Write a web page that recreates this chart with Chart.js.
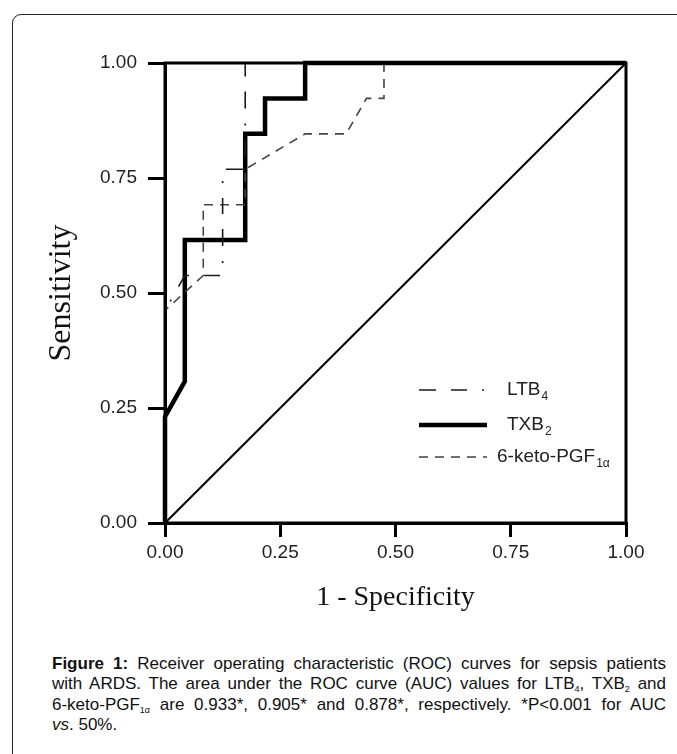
<!DOCTYPE html>
<html>
<head>
<meta charset="utf-8">
<script src="https://cdn.jsdelivr.net/npm/chart.js@4.4.1/dist/chart.umd.min.js"></script>
<style>
  html, body { margin: 0; padding: 0; background: #fff; }
  body { width: 677px; height: 754px; position: relative; overflow: hidden; font-family: "Liberation Sans", Arial, sans-serif; }
  .frame { position: absolute; left: 12px; top: 14px; width: 700px; height: 800px; border: 1px solid #222; border-radius: 9px; }
  #wrap { position: absolute; left: 0; top: 0; width: 677px; height: 640px; }
  .caption { position: absolute; left: 52px; top: 654px; width: 614px; font-size: 17px; line-height: 20.3px; color: #111; }
  .caption .j { text-align: justify; text-align-last: justify; }
  .caption sub { font-size: 9px; line-height: 0; vertical-align: -3px; }
</style>
</head>
<body>
<div class="frame"></div>
<div id="wrap"><canvas id="roc" width="677" height="640"></canvas></div>
<div class="caption">
  <div class="j"><b>Figure 1:</b> Receiver operating characteristic (ROC) curves for sepsis patients</div>
  <div class="j">with ARDS. The area under the ROC curve (AUC) values for LTB<sub>4</sub>, TXB<sub>2</sub> and</div>
  <div class="j">6-keto-PGF<sub>1α</sub> are 0.933*, 0.905* and 0.878*, respectively. *P&lt;0.001 for AUC</div>
  <div><i>vs</i>. 50%.</div>
</div>
<script>
// ticks
const axisTicks = [0, 0.25, 0.5, 0.75, 1];

// legend labels (base text + subscript)
const legendBase = ['LTB', 'TXB', '6-keto-PGF'];
const legendSub = ['4', '2', '1α'];

// ROC curves: 1 - specificity (x) and sensitivity (y)
const ltb4Fpr = [0, 0, 0.043, 0.125, 0.125, 0.174, 0.174, 1];
const ltb4Tpr = [0, 0.462, 0.538, 0.538, 0.769, 0.769, 1, 1];

const txb2Fpr = [0, 0, 0.043, 0.043, 0.174, 0.174, 0.217, 0.217, 0.304, 0.304, 1];
const txb2Tpr = [0, 0.231, 0.308, 0.615, 0.615, 0.846, 0.846, 0.923, 0.923, 1, 1];

const ketoFpr = [0, 0, 0.083, 0.083, 0.174, 0.174, 0.304, 0.393, 0.437, 0.475, 0.475, 1];
const ketoTpr = [0, 0.462, 0.538, 0.692, 0.692, 0.769, 0.846, 0.846, 0.923, 0.923, 1, 1];

const refFpr = [0, 1];
const refTpr = [0, 1];

const toPoints = (xs, ys) => xs.map((x, i) => ({ x: x, y: ys[i] }));

const ltbDash = [17, 15, 16, 15, 2, 15];
const ketoDash = [9, 7];

const datasets = [
    {
        label: 'reference',
        data: toPoints(refFpr, refTpr),
        borderColor: '#000',
        borderWidth: 2,
    },
    {
        label: legendBase[0] + legendSub[0],
        data: toPoints(ltb4Fpr, ltb4Tpr),
        borderColor: '#1a1a1a',
        borderWidth: 1.6,
        borderDash: ltbDash,
        legendRow: 0,
    },
    {
        label: legendBase[2] + legendSub[2],
        data: toPoints(ketoFpr, ketoTpr),
        borderColor: '#444',
        borderWidth: 1.6,
        borderDash: ketoDash,
        legendRow: 2,
    },
    {
        label: legendBase[1] + legendSub[1],
        data: toPoints(txb2Fpr, txb2Tpr),
        borderColor: '#000',
        borderWidth: 4.5,
        legendRow: 1,
    },
];

// box round the plot (top and right sides)
const frameBox = {
    id: 'frameBox',
    afterDatasetsDraw(chart) {
        const { ctx, chartArea: a } = chart;
        ctx.save();
        ctx.strokeStyle = '#000';
        ctx.lineWidth = 3;
        ctx.strokeRect(a.left, a.top, a.right - a.left, a.bottom - a.top);
        ctx.restore();
    },
};

// legend with dashed samples and subscripts
const rocLegend = {
    id: 'rocLegend',
    afterDraw(chart) {
        const ctx = chart.ctx;
        const rowY = [390, 425, 457];
        const textX = [507, 507, 497];
        chart.data.datasets.forEach((ds) => {
            if (ds.legendRow === undefined) return;
            const r = ds.legendRow;
            const y = rowY[r];
            ctx.save();
            ctx.strokeStyle = ds.borderColor;
            ctx.lineWidth = ds.borderWidth;
            ctx.setLineDash(ds.borderDash || []);
            ctx.beginPath();
            ctx.moveTo(419, y);
            ctx.lineTo(487, y);
            ctx.stroke();
            ctx.setLineDash([]);
            ctx.fillStyle = '#222';
            ctx.textBaseline = 'middle';
            ctx.font = '19px "Liberation Sans", Arial, sans-serif';
            ctx.fillText(legendBase[r], textX[r], y);
            const w = ctx.measureText(legendBase[r]).width;
            ctx.font = '12px "Liberation Sans", Arial, sans-serif';
            ctx.fillText(legendSub[r], textX[r] + w + 1, y + 7);
            ctx.restore();
        });
    },
};

const tickFont = { family: '"Liberation Sans", Arial, sans-serif', size: 19 };
const xTitleFont = { family: '"Liberation Serif", "Times New Roman", serif', size: 28 };
const yTitleFont = { family: '"Liberation Serif", "Times New Roman", serif', size: 32 };

new Chart(document.getElementById('roc').getContext('2d'), {
    type: 'line',
    data: { datasets: datasets },
    options: {
        responsive: false,
        animation: false,
        layout: { padding: { left: 0, top: 63, right: 51, bottom: 0 } },
        elements: {
            point: { radius: 0 },
            line: { tension: 0, fill: false, borderCapStyle: 'butt', borderJoinStyle: 'miter' },
        },
        datasets: { line: { clip: false } },
        plugins: { legend: { display: false }, tooltip: { enabled: false } },
        scales: {
            x: {
                type: 'linear',
                min: 0,
                max: 1,
                afterBuildTicks: (s) => { s.ticks = axisTicks.map((v) => ({ value: v })); },
                afterFit: (s) => { s.height = 117; },
                ticks: { font: tickFont, color: '#222', padding: 4, maxRotation: 0, callback: (v) => Number(v).toFixed(2) },
                grid: { drawOnChartArea: false, drawTicks: true, tickLength: 14, color: '#000', lineWidth: 3 },
                border: { display: true, color: '#000', width: 3 },
                title: { display: true, text: '1 - Specificity', font: xTitleFont, color: '#111', padding: { top: 0, bottom: 26 } },
            },
            y: {
                type: 'linear',
                min: 0,
                max: 1,
                afterBuildTicks: (s) => { s.ticks = axisTicks.map((v) => ({ value: v })); },
                afterFit: (s) => { s.width = 165; },
                ticks: { font: tickFont, color: '#222', padding: 11, callback: (v) => Number(v).toFixed(2) },
                grid: { drawOnChartArea: false, drawTicks: true, tickLength: 17, color: '#000', lineWidth: 3 },
                border: { display: true, color: '#000', width: 3 },
                title: { display: true, text: 'Sensitivity', font: yTitleFont, color: '#111', padding: { top: 42, bottom: 0 } },
            },
        },
    },
    plugins: [frameBox, rocLegend],
});
</script>
</body>
</html>
